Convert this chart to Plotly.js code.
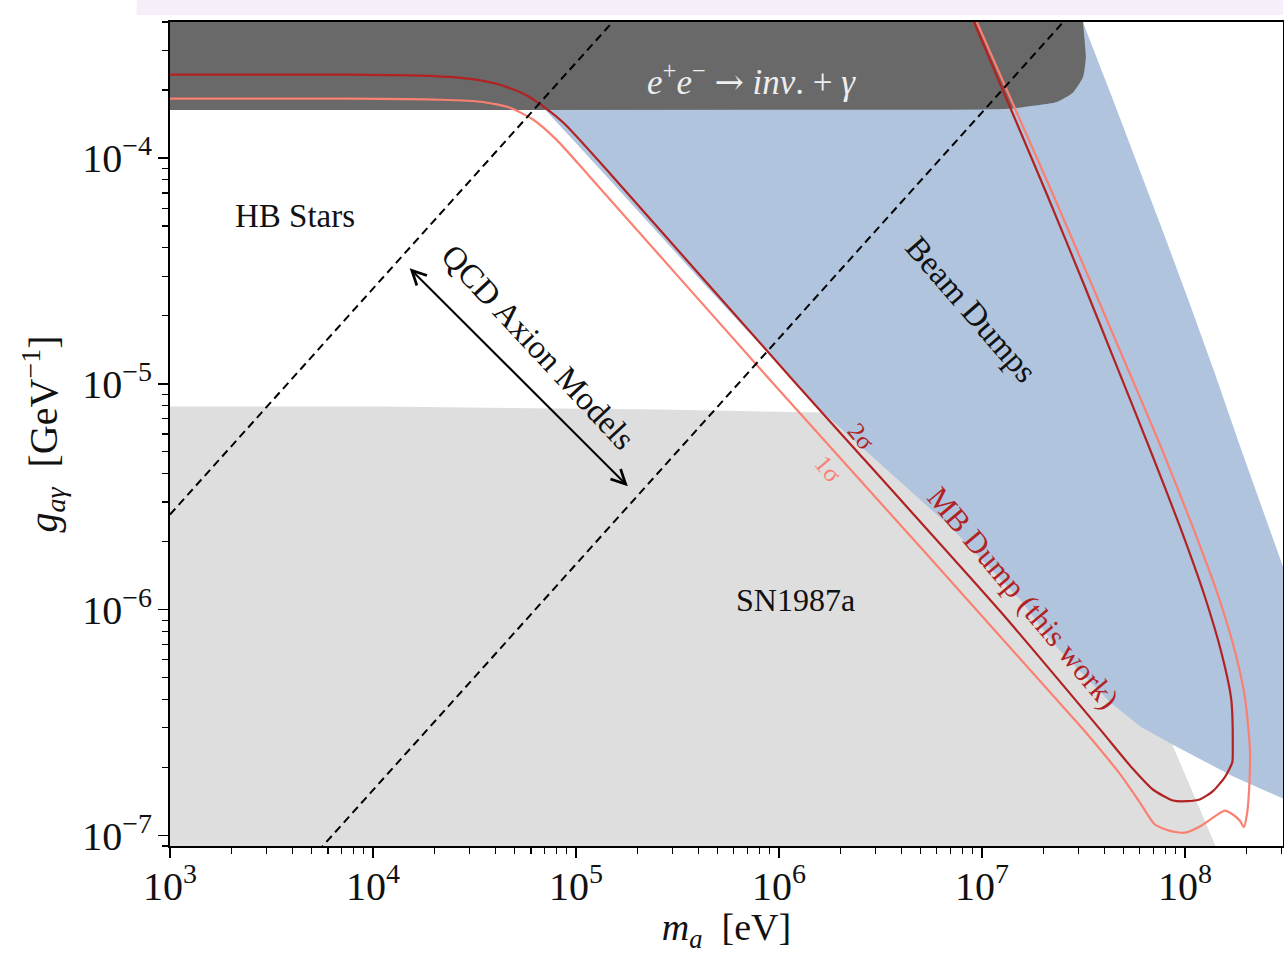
<!DOCTYPE html>
<html><head><meta charset="utf-8">
<script src="https://cdn.plot.ly/plotly-3.0.1.min.js"></script>
<style>html,body{margin:0;padding:0;background:#fff;} #chart{width:1284px;height:954px;}</style>
</head><body><div id="chart"></div>
<script>
// ---------- data (m_a in eV, g_a_gamma in GeV^-1) ----------
const sigma2M = [1.0e3, 7.71e3, 1.91e4, 3.01e4, 4.23e4, 5.61e4, 7.03e4, 8.83e4, 1.52e5, 1.17e6, 1.23e7, 3.81e7, 5.55e7, 6.95e7, 8.73e7, 1.02e8, 1.19e8, 1.37e8, 1.57e8, 1.71e8, 1.72e8, 1.69e8, 1.52e8, 1.25e8, 9.44e7, 6.73e7, 4.68e7, 3.15e7, 2.09e7, 1.37e7, 9.04e6];
const sigma2G = [2.34e-4, 2.34e-4, 2.31e-4, 2.24e-4, 2.11e-4, 1.91e-4, 1.67e-4, 1.41e-4, 8.26e-5, 1.04e-5, 9.84e-7, 2.96e-7, 1.97e-7, 1.60e-7, 1.43e-7, 1.42e-7, 1.45e-7, 1.57e-7, 1.81e-7, 2.11e-7, 2.41e-7, 4.02e-7, 6.34e-7, 1.15e-6, 2.34e-6, 5.12e-6, 1.16e-5, 2.81e-5, 6.89e-5, 1.69e-4, 4.09e-4];

const sigma1M = [1.0e3, 7.71e3, 2.14e4, 3.48e4, 4.73e4, 6.14e4, 8.05e4, 1.17e5, 9.04e5, 3.15e7, 4.79e7, 6.00e7, 7.11e7, 8.43e7, 1.0e8, 1.19e8, 1.41e8, 1.57e8, 1.72e8, 1.87e8, 1.95e8, 2.02e8, 2.07e8, 2.09e8, 1.98e8, 1.78e8, 1.46e8, 1.09e8, 7.71e7, 5.24e7, 3.44e7, 2.24e7, 1.44e7, 9.33e6];
const sigma1G = [1.83e-4, 1.83e-4, 1.81e-4, 1.77e-4, 1.67e-4, 1.48e-4, 1.20e-4, 8.26e-5, 1.04e-5, 2.96e-7, 1.87e-7, 1.40e-7, 1.12e-7, 1.05e-7, 1.03e-7, 1.10e-7, 1.22e-7, 1.29e-7, 1.24e-7, 1.16e-7, 1.09e-7, 1.24e-7, 1.60e-7, 2.41e-7, 4.02e-7, 6.34e-7, 1.15e-6, 2.34e-6, 5.12e-6, 1.16e-5, 2.81e-5, 6.89e-5, 1.69e-4, 4.09e-4];

const eeM = [5e2, 1.0e7, 1.37e7, 1.67e7, 2.34e7, 2.81e7, 3.15e7, 3.25e7, 3.15e7, 3.15e7, 5e2];
const eeG = [1.63e-4, 1.64e-4, 1.65e-4, 1.69e-4, 1.77e-4, 1.95e-4, 2.29e-4, 2.81e-4, 3.97e-4, 5e-4, 5e-4];

const beamM = [7.03e4, 7.03e4, 3.15e7, 3.15e7, 4.42e7, 6.00e7, 7.96e7, 1.06e8, 1.41e8, 1.87e8, 2.39e8, 3.04e8, 3.69e8, 3.69e8, 3.04e8, 1.72e8, 8.63e7, 6.00e7, 4.28e7, 2.34e7, 1.54e7, 6.95e6, 2.90e6, 1.65e6, 1.17e6, 4.08e5, 1.42e5, 7.03e4];
const beamG = [1.64e-4, 5e-4, 5e-4, 3.97e-4, 1.81e-4, 8.87e-5, 4.49e-5, 2.24e-5, 1.10e-5, 5.28e-6, 2.84e-6, 1.56e-6, 9.5e-7, 1.46e-7, 1.46e-7, 1.83e-7, 2.54e-7, 3.05e-7, 3.89e-7, 6.81e-7, 1.11e-6, 2.34e-6, 4.76e-6, 7.46e-6, 1.04e-5, 2.90e-5, 8.26e-5, 1.64e-4];

const snM = [5e2, 1.08e4, 2.59e5, 1.65e6, 2.81e6, 1.23e7, 3.81e7, 8.24e7, 1.41e8, 1.57e8, 5e2];
const snG = [7.94e-6, 7.94e-6, 7.69e-6, 7.46e-6, 5.68e-6, 1.67e-6, 4.92e-7, 2.81e-7, 9.06e-8, 7.1e-8, 7.1e-8];

const qcdUpperM = [1e3, 1e9];
const qcdUpperG = [2.64e-6, 2.64];
const qcdLowerM = [1e3, 1e9];
const qcdLowerG = [1.59e-8, 1.59e-2];

const qcdArrowM = [1.49e4, 1.80e5];
const qcdArrowG = [3.30e-5, 3.52e-6];

// ---------- styling ----------
const SERIF = "'Liberation Serif', 'DejaVu Serif', serif";
const DARKRED = '#b22222';
const SALMON = '#fa8072';

const traces = [
  {x: snM, y: snG, mode: 'lines', fill: 'toself', fillcolor: '#dedede', line: {width: 0, color: '#dedede'}, hoverinfo: 'skip'},
  {x: beamM, y: beamG, mode: 'lines', fill: 'toself', fillcolor: '#b0c4de', line: {width: 0, color: '#b0c4de'}, hoverinfo: 'skip'},
  {x: eeM, y: eeG, mode: 'lines', fill: 'toself', fillcolor: '#696969', line: {width: 0, color: '#696969', shape: 'spline', smoothing: 0.5}, hoverinfo: 'skip'},
  {x: sigma1M, y: sigma1G, mode: 'lines', line: {color: SALMON, width: 2.2, shape: 'spline', smoothing: 0.6}},
  {x: sigma2M, y: sigma2G, mode: 'lines', line: {color: DARKRED, width: 2.2, shape: 'spline', smoothing: 0.6}},
  {x: qcdUpperM, y: qcdUpperG, mode: 'lines', line: {color: '#000', width: 2, dash: '8px,5px'}},
  {x: qcdLowerM, y: qcdLowerG, mode: 'lines', line: {color: '#000', width: 2, dash: '8px,5px'}}
];

const L = Math.log10;
function label(m, g, text, size, color, angle) {
  return {x: L(m), y: L(g), xref: 'x', yref: 'y', text: text, showarrow: false,
          font: {family: SERIF, size: size, color: color}, textangle: angle || 0,
          xanchor: 'center', yanchor: 'middle'};
}

const annotations = [
  label(4.13e3, 5.56e-5, 'HB Stars', 33, '#111'),
  label(7.36e5, 2.22e-4, '<i>e</i><sup>+</sup><i>e</i><sup>\u2212</sup> <span style="font-family:DejaVu Serif">\u2192</span> <i>inv</i>. + <i>\u03b3</i>', 35, '#eeeeee'),
  label(8.93e6, 2.13e-5, 'Beam Dumps', 33, '#111', 49),
  label(6.50e4, 1.45e-5, 'QCD Axion Models', 33, '#111', 47),
  label(1.20e6, 1.10e-6, 'SN1987a', 32, '#111'),
  label(2.54e6, 5.85e-6, '2\u03c3', 25, DARKRED, 50),
  label(1.76e6, 4.18e-6, '1\u03c3', 25, SALMON, 50),
  label(1.59e7, 1.13e-6, 'MB Dump (this work)', 31, DARKRED, 50),
  {x: L(qcdArrowM[1]), y: L(qcdArrowG[1]), ax: L(qcdArrowM[0]), ay: L(qcdArrowG[0]),
   xref: 'x', yref: 'y', axref: 'x', ayref: 'y', text: '', showarrow: true,
   arrowhead: 5, startarrowhead: 5, arrowside: 'end+start', arrowsize: 1.4, startarrowsize: 1.4,
   arrowwidth: 2, arrowcolor: '#000', standoff: 0, startstandoff: 0}
];

const axisCommon = {
  type: 'log', dtick: 1, exponentformat: 'power', ticks: 'outside', ticklen: 10, tickwidth: 1.5,
  tickcolor: '#000', showline: true, linecolor: '#000', linewidth: 1.6, mirror: true,
  showgrid: false, zeroline: false,
  tickfont: {family: SERIF, size: 32, color: '#111'},
  minor: {ticks: 'outside', ticklen: 6, tickwidth: 1.1, tickcolor: '#000', showgrid: false, dtick: 'D1'}
};

const layout = {
  width: 1284, height: 954,
  margin: {l: 170, r: 1, t: 22, b: 108},
  paper_bgcolor: '#fff', plot_bgcolor: '#fff',
  showlegend: false,
  xaxis: Object.assign({}, axisCommon, {
    range: [3, 8.483],
    ticklabelstandoff: -4,
    title: {text: '<i>m</i><sub><i>a</i></sub>\u2002[eV]', font: {family: SERIF, size: 38, color: '#111'}, standoff: 18}
  }),
  yaxis: Object.assign({}, axisCommon, {
    range: [-7.046, -3.398],
    title: {text: '<i>g</i><sub><i>a\u03b3</i></sub>\u2002[GeV<sup>\u22121</sup>]', font: {family: SERIF, size: 40, color: '#111'}, standoff: 12}
  }),
  annotations: annotations,
  shapes: [
    {type: 'rect', xref: 'paper', yref: 'paper', x0: -0.03, x1: 1.0, y0: 1.0085, y1: 1.03,
     fillcolor: 'rgba(242,232,248,0.7)', line: {width: 0}, layer: 'below'}
  ]
};

Plotly.newPlot('chart', traces, layout, {displayModeBar: false, staticPlot: true});
</script>
</body></html>
